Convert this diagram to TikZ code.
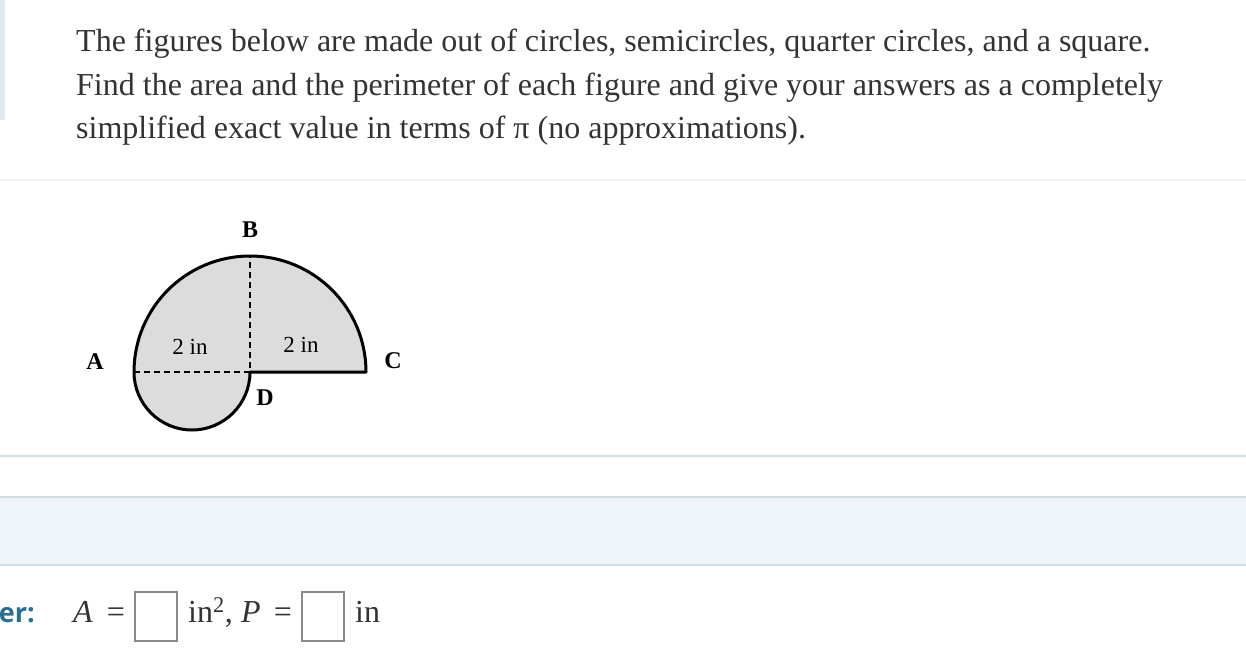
\documentclass[tikz,border=0pt]{standalone}
\usepackage{fontspec}
\setmainfont{Liberation Serif}
\newfontfamily\answerfont{Open Sans}
\definecolor{textgray}{HTML}{333333}
\definecolor{rulegray}{HTML}{D2DEE5}
\definecolor{faintrule}{HTML}{EEF3F6}
\definecolor{bandblue}{HTML}{EEF4F8}
\definecolor{barblue}{HTML}{DFE9F1}
\definecolor{shapegray}{HTML}{DCDCDC}
\definecolor{answerteal}{HTML}{2C6E8E}
\definecolor{boxgray}{HTML}{8A8A8A}
\begin{document}
\begin{tikzpicture}[x=1pt,y=1pt,
    prose/.style={anchor=base west,text=textgray,inner sep=0pt,font=\fontsize{32}{38}\selectfont},
    mathsign/.style={anchor=base,text=textgray,inner sep=0pt,font=\fontsize{32}{38}\selectfont},
    pointlabel/.style={font=\fontsize{24}{28}\selectfont\bfseries,inner sep=0pt},
    lengthlabel/.style={font=\fontsize{23}{26}\selectfont,inner sep=0pt},
    answerbox/.style={draw=boxgray,line width=2pt,minimum width=42pt,minimum height=49pt,inner sep=0pt}]
        \useasboundingbox (0,0) rectangle (1246,-668);
        \fill[white] (0,0) rectangle (1246,-668);

        % page furniture
        \fill[barblue] (0,0) rectangle (5,-120);
        \draw[faintrule,line width=1.5pt] (0,-180) -- (1246,-180);
        \draw[rulegray,line width=1.5pt] (0,-456) -- (1246,-456);
        \fill[bandblue] (0,-497) rectangle (1246,-565);
        \draw[rulegray,line width=1.5pt] (0,-497) -- (1246,-497);
        \draw[rulegray,line width=1.5pt] (0,-565) -- (1246,-565);

        % question
        \node[prose] (line1) at (76,-52)  {The figures below are made out of circles, semicircles, quarter circles, and a square.};
        \node[prose] (line2) at (76,-96)  {Find the area and the perimeter of each figure and give your answers as a completely};
        \node[prose] (line3) at (76,-139) {simplified exact value in terms of π (no approximations).};

        % figure
        \coordinate (A) at (134,-372);
        \coordinate (B) at (250,-256);
        \coordinate (C) at (366,-372);
        \coordinate (D) at (250,-372);

        \filldraw[fill=shapegray,draw=black,line width=3pt,line join=round]
            (A) arc (180:0:116) -- (D) arc (0:-180:58) -- cycle;
        \draw[dashed,dash pattern=on 6pt off 4pt,line width=2pt] (A) -- (D) -- (B);

        \node[pointlabel] (labB) at (250,-230) {B};
        \node[pointlabel] (labA) at (95,-362)  {A};
        \node[pointlabel] (labC) at (393,-361) {C};
        \node[pointlabel] (labD) at (265,-398) {D};
        \node[lengthlabel] (left)  at (190,-347) {2 in};
        \node[lengthlabel] (right) at (301,-345) {2 in};

        % answer line
        \node[anchor=base east,inner sep=0pt,text=answerteal,font=\answerfont\fontsize{27}{32}\selectfont\bfseries] (answer) at (35,-622) {er:};
        \node[prose] (areavar) at (73,-622) {\textit{A}};
        \node[mathsign] (areaeq) at (116,-622) {=};
        \node[answerbox] (areabox) at (156,-616) {};
        \node[prose] (unitsq) at (188,-622) {in\textsuperscript{2},};
        \node[prose] (perimvar) at (241,-622) {\textit{P}};
        \node[mathsign] (perimeq) at (283,-622) {=};
        \node[answerbox] (perimbox) at (323,-616) {};
        \node[prose] (unit) at (355,-622) {in};
\end{tikzpicture}
\end{document}
